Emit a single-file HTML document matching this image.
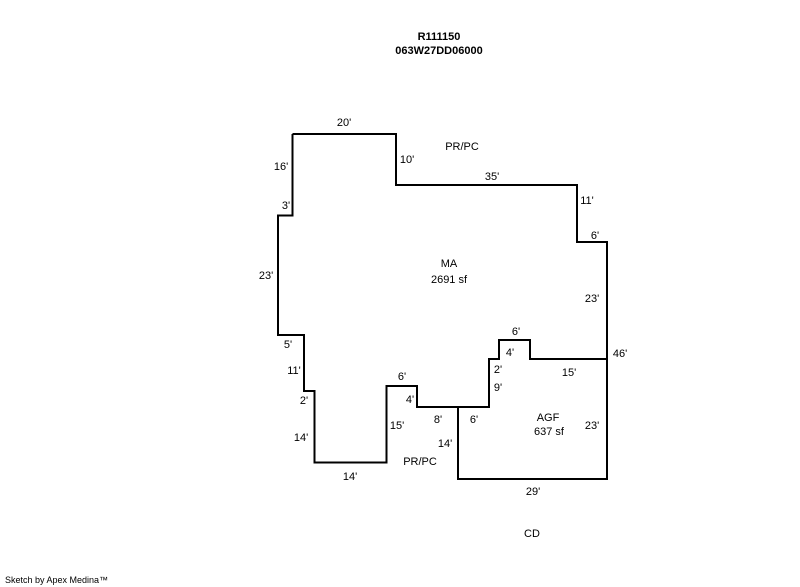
<!DOCTYPE html>
<html><head><style>
html,body{margin:0;padding:0;background:#fff;}
svg{display:block;}
text{font-family:"Liberation Sans",Arial,sans-serif;font-size:11px;fill:#000;}
</style></head><body>
<svg width="800" height="587" viewBox="0 0 800 587" xmlns="http://www.w3.org/2000/svg">
<text x="439" y="40" text-anchor="middle" style="font-weight:bold">R111150</text>
<text x="439" y="54" text-anchor="middle" style="font-weight:bold">063W27DD06000</text>
<polyline fill="none" stroke="#000" stroke-width="2" points="292.5,134 396,134 396,185 577,185 577,242 607,242 607,479 458,479 458,407 417,407 417,386 386.5,386 386.5,462.5 314.5,462.5 314.5,391 304,391 304,335 278,335 278,215.5 292.5,215.5 292.5,134"/>
<polyline fill="none" stroke="#000" stroke-width="2" points="458,407 489,407 489,359 499,359 499,340 530,340 530,359 607,359"/>
<g text-anchor="middle">
<text x="344" y="126">20'</text>
<text x="462" y="150">PR/PC</text>
<text x="407" y="163">10'</text>
<text x="492" y="180">35'</text>
<text x="281" y="170">16'</text>
<text x="286" y="209">3'</text>
<text x="587" y="204">11'</text>
<text x="595" y="239">6'</text>
<text x="266" y="279">23'</text>
<text x="449" y="267">MA</text>
<text x="449" y="283">2691 sf</text>
<text x="592" y="302">23'</text>
<text x="516" y="335">6'</text>
<text x="510" y="356">4'</text>
<text x="620" y="357">46'</text>
<text x="288" y="348">5'</text>
<text x="294" y="374">11'</text>
<text x="498" y="373">2'</text>
<text x="569" y="376">15'</text>
<text x="402" y="380">6'</text>
<text x="498" y="391">9'</text>
<text x="304" y="404">2'</text>
<text x="410" y="403">4'</text>
<text x="438" y="423">8'</text>
<text x="474" y="423">6'</text>
<text x="548" y="421">AGF</text>
<text x="549" y="435">637 sf</text>
<text x="592" y="429">23'</text>
<text x="397" y="429">15'</text>
<text x="301" y="441">14'</text>
<text x="445" y="447">14'</text>
<text x="420" y="465">PR/PC</text>
<text x="350" y="480">14'</text>
<text x="533" y="495">29'</text>
<text x="532" y="537">CD</text>
</g>
<text x="5" y="583" style="font-size:9px">Sketch by Apex Medina™</text>
</svg>
</body></html>
